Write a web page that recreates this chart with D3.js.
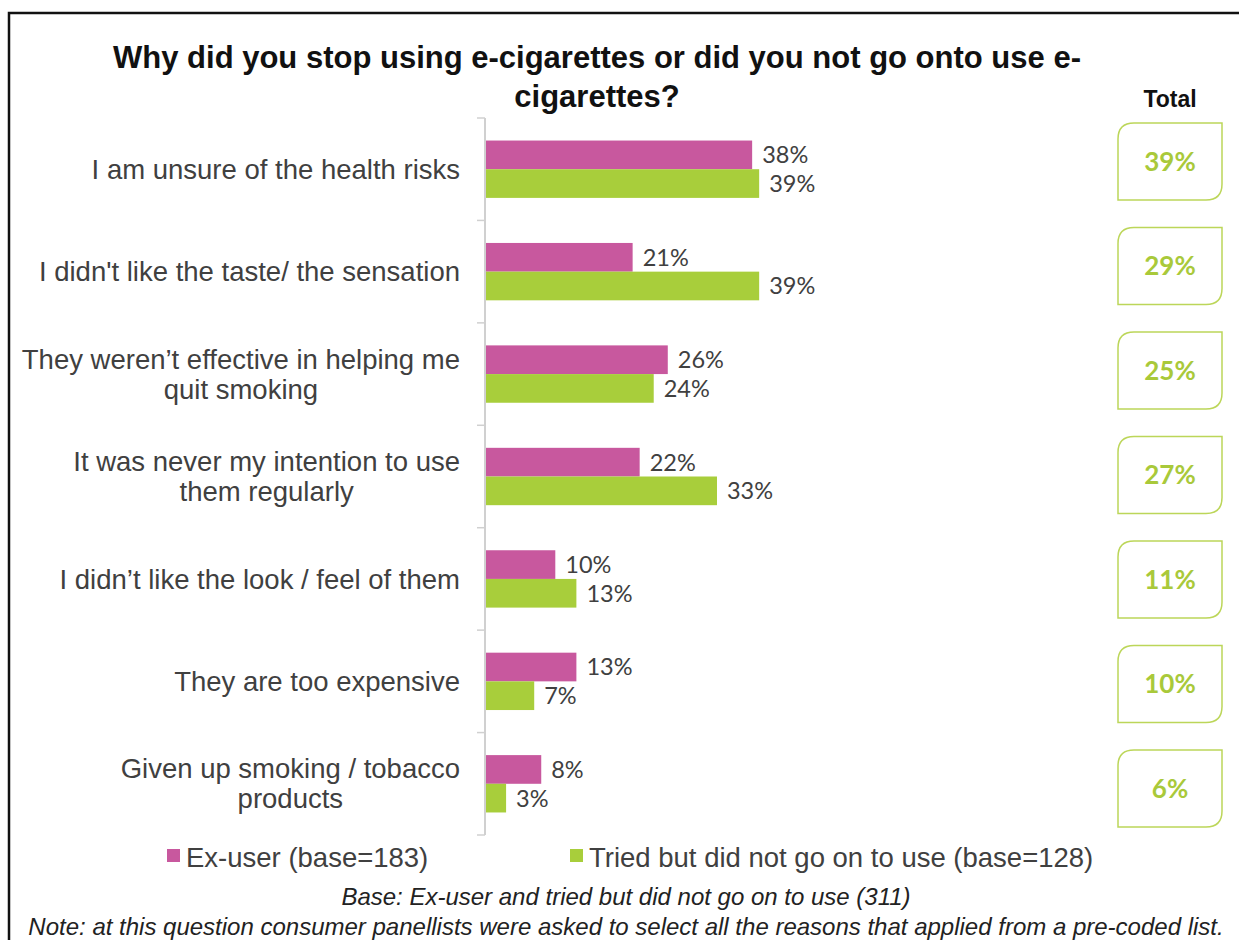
<!DOCTYPE html>
<html>
<head>
<meta charset="utf-8">
<script src="https://cdn.jsdelivr.net/npm/d3@7"></script>
<style>
  html, body { margin: 0; padding: 0; background: #fff; }
  svg { display: block; }
</style>
</head>
<body>
<svg id="chart" width="1239" height="940"></svg>
<script>
// Reasons for stopping / not going on to use e-cigarettes
const categories = [
  "I am unsure of the health risks",
  "I didn't like the taste/ the sensation",
  "They weren\u2019t effective in helping me|quit smoking",
  "It was never my intention to use|them regularly",
  "I didn\u2019t like the look / feel of them",
  "They are too expensive",
  "Given up smoking / tobacco|products"
];
const exUser = [38, 21, 26, 22, 10, 13, 8];
const triedNotUsed = [39, 39, 24, 33, 13, 7, 3];
const totals = [39, 29, 25, 27, 11, 10, 6];
const seriesNames = ["Ex-user (base=183)", "Tried but did not go on to use (base=128)"];
const titleLines = [
  "Why did you stop using e-cigarettes or did you not go onto use e-",
  "cigarettes?"
];
const baseNote = "Base: Ex-user and tried but did not go on to use (311)";
const footNote = "Note: at this question consumer panellists were asked to select all the reasons that applied from a pre-coded list.";

const PINK = "#c8589e";
const GREEN = "#a8ce3b";
const TEXT = "#404040";
const sans = "'Liberation Sans', Arial, sans-serif";
const calib = "Lato, 'Open Sans', sans-serif";

const svg = d3.select("#chart");

// outer frame (left and top edges)
svg.append("path")
  .attr("d", "M9,945 V13 H1245")
  .attr("fill", "none")
  .attr("stroke", "#111")
  .attr("stroke-width", 2.5);

// title
svg.append("g").selectAll("text")
  .data(titleLines).join("text")
  .attr("x", 597)
  .attr("y", (d, i) => 68 + i * 39)
  .attr("text-anchor", "middle")
  .attr("font-family", sans)
  .attr("font-weight", "bold")
  .attr("font-size", 31)
  .attr("fill", "#111")
  .text(d => d);

const x0 = 485;
const x = d3.scaleLinear().domain([0, 100]).range([x0, x0 + 703]);
const y = d3.scaleBand().domain(categories).range([118, 835]).paddingInner(0.44).paddingOuter(0.22);
const ySub = d3.scaleBand().domain([0, 1]).range([0, y.bandwidth()]);

// axis with ticks at category boundaries
const axisG = svg.append("g");
axisG.append("line")
  .attr("x1", x0).attr("x2", x0)
  .attr("y1", 118).attr("y2", 835)
  .attr("stroke", "#d0d0d0").attr("stroke-width", 2);
const tickYs = d3.range(categories.length + 1).map(i => 118 + i * (835 - 118) / categories.length);
axisG.selectAll(".tick").data(tickYs).join("line")
  .attr("x1", x0 - 8).attr("x2", x0)
  .attr("y1", d => d).attr("y2", d => d)
  .attr("stroke", "#d0d0d0").attr("stroke-width", 1.5);

// category labels
const catG = svg.append("g");
categories.forEach(c => {
  const lines = c.split("|");
  const cy = y(c) + y.bandwidth() / 2;
  const lh = 30;
  const t = catG.append("text")
    .attr("text-anchor", "middle")
    .attr("font-family", sans)
    .attr("font-size", 27.5)
    .attr("fill", TEXT);
  lines.forEach((ln, i) => {
    t.append("tspan")
      .attr("x", 0)
      .attr("y", cy + (i - (lines.length - 1) / 2) * lh)
      .attr("dy", "0.35em")
      .text(ln);
  });
  // right-align the block while centring its lines
  const w = t.node().getBBox().width;
  t.attr("transform", `translate(${460 - w / 2},0)`);
});

// bars
const series = [exUser, triedNotUsed];
const colors = [PINK, GREEN];
series.forEach((vals, s) => {
  const g = svg.append("g");
  g.selectAll("rect").data(vals).join("rect")
    .attr("x", x0 + 1)
    .attr("y", (d, i) => y(categories[i]) + ySub(s))
    .attr("width", d => x(d) - x0 - 1)
    .attr("height", ySub.bandwidth())
    .attr("fill", colors[s]);
  g.selectAll("text").data(vals).join("text")
    .attr("x", d => x(d) + 10)
    .attr("y", (d, i) => y(categories[i]) + ySub(s) + ySub.bandwidth() / 2)
    .attr("dy", "0.36em")
    .attr("font-family", calib)
    .attr("font-size", 23.5)
    .attr("fill", TEXT)
    .text(d => d + "%");
});

// Total column
svg.append("text")
  .attr("x", 1170).attr("y", 107)
  .attr("text-anchor", "middle")
  .attr("font-family", sans)
  .attr("font-weight", "bold")
  .attr("font-size", 23)
  .attr("fill", "#111")
  .text("Total");

const yBox = d3.scaleBand().domain(categories).range([123, 827]).paddingInner(0.263).paddingOuter(0);
const bx = 1118, bw = 104, r = 16;
const boxG = svg.append("g");
totals.forEach((v, i) => {
  const top = yBox(categories[i]);
  const bh = yBox.bandwidth();
  const p = `M${bx + r},${top} H${bx + bw} V${top + bh - r} Q${bx + bw},${top + bh} ${bx + bw - r},${top + bh} H${bx} V${top + r} Q${bx},${top} ${bx + r},${top} Z`;
  boxG.append("path")
    .attr("d", p)
    .attr("fill", "#fff")
    .attr("stroke", "#bcd659")
    .attr("stroke-width", 1.5);
  boxG.append("text")
    .attr("x", bx + bw / 2)
    .attr("y", top + bh / 2)
    .attr("dy", "0.36em")
    .attr("text-anchor", "middle")
    .attr("font-family", calib)
    .attr("font-weight", "bold")
    .attr("font-size", 26)
    .attr("fill", "#a9c93a")
    .text(v + "%");
});

// legend
const legendX = [167, 570];
const legG = svg.append("g");
seriesNames.forEach((n, i) => {
  legG.append("rect")
    .attr("x", legendX[i]).attr("y", 849)
    .attr("width", 13).attr("height", 13)
    .attr("fill", colors[i]);
  legG.append("text")
    .attr("x", legendX[i] + 19).attr("y", 857)
    .attr("dy", "0.35em")
    .attr("font-family", sans)
    .attr("font-size", 27.5)
    .attr("fill", TEXT)
    .text(n);
});

// footnotes
svg.append("text")
  .attr("x", 626).attr("y", 905)
  .attr("text-anchor", "middle")
  .attr("font-family", sans)
  .attr("font-style", "italic")
  .attr("font-size", 24)
  .attr("fill", "#222")
  .text(baseNote);
svg.append("text")
  .attr("x", 626).attr("y", 935)
  .attr("text-anchor", "middle")
  .attr("font-family", sans)
  .attr("font-style", "italic")
  .attr("font-size", 24)
  .attr("fill", "#222")
  .text(footNote);
</script>
</body>
</html>
